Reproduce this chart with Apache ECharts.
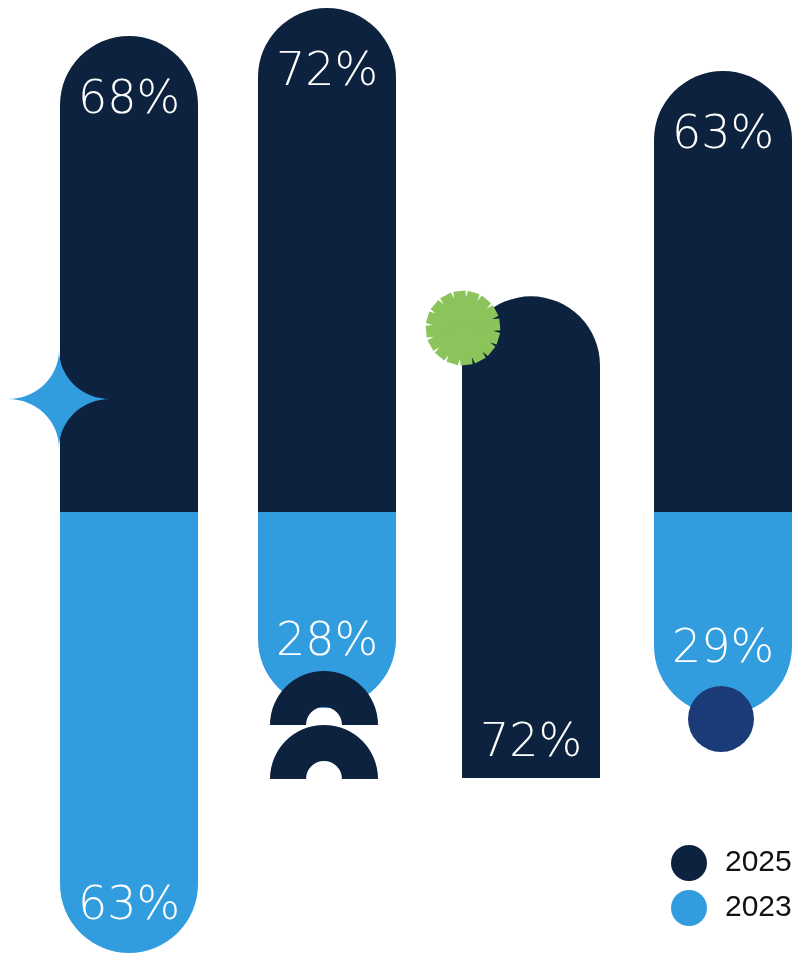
<!DOCTYPE html>
<html>
<head>
<meta charset="utf-8">
<script src="https://cdn.jsdelivr.net/npm/echarts@6/dist/echarts.min.js"></script>
<style>
  html, body { margin: 0; padding: 0; background: #ffffff; }
  #chart { width: 798px; height: 954px; }
</style>
</head>
<body>
<div id="chart"></div>
<script>
// Survey shares by group, two waves
const categories = ['A', 'B', 'C', 'D'];
const values2025 = [68, 72, 72, 63];
const values2023 = [63, 28, null, 29];
// The third column stands alone on its own baseline
const standaloneIndex = 2;

const NAVY = '#0c223e';
const BLUE = '#319ddf';
const GREEN = '#8cc45c';
const ROYAL = '#1b3b78';
const BAR_W = 138;
const R = BAR_W / 2;

const labelFont = {
  color: '#ffffff',
  fontFamily: '"DejaVu Sans", Lato, sans-serif',
  fontWeight: 200,
  fontSize: 46,
  formatter: p => Math.abs(p.value) + '%'
};

const upper = values2025.map((v, i) => i === standaloneIndex ? '-' : v);
const lower = values2023.map(v => v == null ? '-' : -v);
const standalone = values2025.map((v, i) => i === standaloneIndex ? v : '-');

// 4-point star with concave (quarter-ellipse) sides
function starPoints(cx, cy, rx, ry) {
  const pts = [];
  const corners = [[1, -1], [1, 1], [-1, 1], [-1, -1]];
  corners.forEach(([sx, sy], q) => {
    const ox = cx + sx * rx, oy = cy + sy * ry;
    const steps = 16;
    for (let s = 0; s <= steps; s++) {
      const t = (s / steps) * Math.PI / 2;
      let px, py;
      if (q % 2 === 0) {
        px = ox - sx * rx * Math.cos(t);
        py = oy - sy * ry * Math.sin(t);
      } else {
        px = ox - sx * rx * Math.sin(t);
        py = oy - sy * ry * Math.cos(t);
      }
      pts.push([px, py]);
    }
  });
  return pts;
}

// toothed disc: core circle plus radial rectangular teeth
function sunGroup(cx, cy, rCore, rOuter, teeth, halfW) {
  const children = [{ type: 'circle', z: 100, shape: { cx: 0, cy: 0, r: rCore }, style: { fill: GREEN } }];
  for (let i = 0; i < teeth; i++) {
    children.push({
      type: 'rect',
      z: 100,
      rotation: (i / teeth) * Math.PI * 2 + Math.PI / teeth / 2,
      shape: { x: -halfW, y: 0, width: halfW * 2, height: rOuter },
      style: { fill: GREEN }
    });
  }
  return { type: 'group', x: cx, y: cy, z: 100, children };
}

const chart = echarts.init(document.getElementById('chart'), null, { renderer: 'canvas' });

chart.setOption({
  animation: false,
  backgroundColor: '#ffffff',
  grid: [
    { left: 129, right: 75, top: 1, bottom: 1 },
    { left: 135, right: 69, top: 109, bottom: 176 }
  ],
  xAxis: [
    { type: 'category', data: categories, gridIndex: 0, boundaryGap: false, show: false },
    { type: 'category', data: categories, gridIndex: 1, boundaryGap: false, show: false }
  ],
  yAxis: [
    { type: 'value', gridIndex: 0, min: -63, max: 73, show: false },
    { type: 'value', gridIndex: 1, min: 0, max: 100, show: false }
  ],
  legend: {
    orient: 'vertical',
    left: 666,
    top: 840,
    icon: 'circle',
    itemWidth: 36,
    itemHeight: 36,
    itemGap: 9,
    data: ['2025', '2023'],
    textStyle: {
      fontFamily: '"Liberation Sans", Arial, sans-serif',
      fontSize: 30,
      color: '#111111',
      padding: [0, 0, 0, 13]
    }
  },
  series: [
    {
      name: '2025',
      type: 'bar',
      xAxisIndex: 0, yAxisIndex: 0,
      barWidth: BAR_W,
      barGap: '-100%',
      data: upper,
      itemStyle: { color: NAVY, borderRadius: [R, R, 0, 0] },
      label: Object.assign({ show: true, position: 'insideTop', distance: 42 }, labelFont)
    },
    {
      name: '2023',
      type: 'bar',
      xAxisIndex: 0, yAxisIndex: 0,
      barWidth: BAR_W,
      barGap: '-100%',
      data: lower.map((v, i) => i === 0 ? { value: v, label: { distance: 23 } } : v),
      itemStyle: { color: BLUE, borderRadius: [0, 0, R, R] },
      label: Object.assign({ show: true, position: 'insideBottom', distance: 42 }, labelFont)
    },
    {
      name: '2025',
      type: 'bar',
      xAxisIndex: 1, yAxisIndex: 1,
      barWidth: BAR_W,
      data: standalone,
      itemStyle: { color: NAVY, borderRadius: [R, R, 0, 0] },
      label: Object.assign({ show: true, position: 'insideBottom', distance: 11 }, labelFont)
    }
  ],
  graphic: [
    { type: 'polygon', z: 100, shape: { points: starPoints(59, 399, 51, 49) }, style: { fill: BLUE } },
    sunGroup(463, 328, 31, 37, 16, 6),
    { type: 'sector', z: 100, shape: { cx: 324, cy: 725, r: 54, r0: 18, startAngle: Math.PI, endAngle: Math.PI * 2 }, style: { fill: NAVY } },
    { type: 'sector', z: 100, shape: { cx: 324, cy: 779, r: 54, r0: 18, startAngle: Math.PI, endAngle: Math.PI * 2 }, style: { fill: NAVY } },
    { type: 'circle', z: 100, shape: { cx: 721, cy: 719, r: 33 }, style: { fill: ROYAL } }
  ]
});
</script>
</body>
</html>
